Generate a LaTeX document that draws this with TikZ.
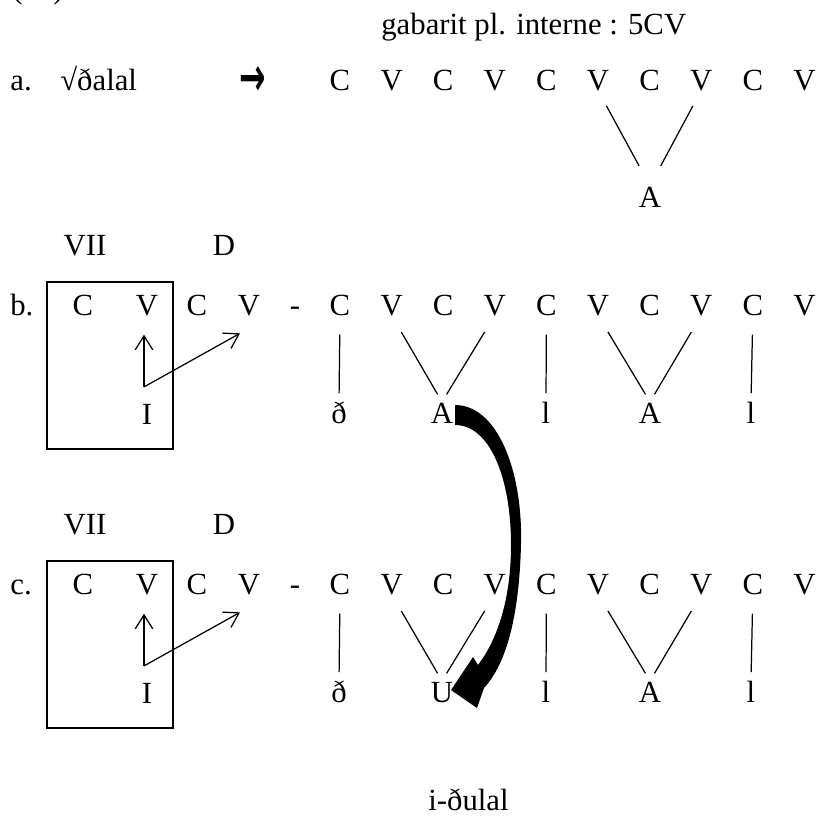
\documentclass[tikz,border=0pt]{standalone}
\usepackage{fontspec}
\setmainfont{Liberation Serif}
\newfontfamily\arrowfont{DejaVu Sans}
\usetikzlibrary{arrows.meta, calc}

\begin{document}
\begin{tikzpicture}[
    x=0.02cm, y=-0.02cm,
    font=\fontsize{17.5}{20}\selectfont,
    seg/.style={inner sep=0pt, text height=11.8pt, text depth=0pt, anchor=base},
    lbl/.style={inner sep=0pt, anchor=base west},
    tie/.style={line width=0.7pt, shorten <=11pt, shorten >=5pt},
    arr/.style={line width=0.7pt, -{Straight Barb[length=8pt, width=10pt]}},
    frame/.style={line width=0.7pt},
]
\useasboundingbox (0,0) rectangle (819,816);

%% example number (cut off at the top)
\node[lbl] (num) at (12,-2) {(\hphantom{00})};

%% a. template
\node[lbl] (gab)  at (381,34) {gabarit pl. interne : 5CV};
\node[lbl] (alab) at (10,90)  {a.};
\node[lbl] (root) at (60,90)  {√ðalal};
\node[inner sep=0pt] (to) at (253,81)
    {\scalebox{1}[1.7]{\fontsize{18}{18}\arrowfont\bfseries →}};
\foreach \s [count=\i from 0] in {C,V,C,V,C,V,C,V,C,V}
  \node[seg] (a\i) at (340+51.6*\i,90) {\s};
\node[seg] (aA) at (650,207) {A};
\draw[tie, shorten <=10pt, shorten >=13pt] (a5.south) -- (aA.north);
\draw[tie, shorten <=10pt, shorten >=13pt] (a7.south) -- (aA.north);

%% b. and c. derivations
\foreach \r/\y/\v in {b/315/A, c/594/U} {
  \node[lbl] (\r-lab) at (10,\y) {\r.};
  \node[seg] (\r-VII) at (85,\y-60)  {VII};
  \node[seg] (\r-D)   at (224,\y-60) {D};
  \node[seg] (\r-kC)  at (83,\y)  {C};
  \node[seg] (\r-kV)  at (147,\y) {V};
  \node[seg] (\r-dC)  at (197,\y) {C};
  \node[seg] (\r-dV)  at (249,\y) {V};
  \node[seg] (\r-dash) at (295,\y) {-};
  \foreach \s [count=\i from 0] in {C,V,C,V,C,V,C,V,C,V}
    \node[seg] (\r\i) at (340+51.6*\i,\y) {\s};

  %% melody
  \node[seg] (\r-I)  at (147,\y+109) {I};
  \node[seg] (\r-dh) at (339,\y+108) {ð};
  \node[seg] (\r-v1) at (442,\y+108) {\v};
  \node[seg] (\r-l1) at (546,\y+108) {l};
  \node[seg] (\r-v2) at (650,\y+108) {A};
  \node[seg] (\r-l2) at (751,\y+108) {l};

  %% association lines
  \draw[tie] (\r0.south) -- (\r-dh.north);
  \draw[tie] (\r1.south) -- (\r-v1.north);
  \draw[tie] (\r3.south) -- (\r-v1.north);
  \draw[tie] (\r4.south) -- (\r-l1.north);
  \draw[tie] (\r5.south) -- (\r-v2.north);
  \draw[tie] (\r7.south) -- (\r-v2.north);
  \draw[tie] (\r8.south) -- (\r-l2.north);

  %% initial CV box and spreading of I
  \draw[frame] (47,\y-33) rectangle (173,\y+134);
  \coordinate (\r-fork) at ($(\r-I.north)+(-3,-16)$);
  \draw[arr, shorten >=11pt] (\r-fork) -- (\r-fork |- \r-kV.south);
  \draw[arr] (\r-fork) -- ($(\r-dV.south)+(-9,18)$);
}

%% A -> U
\fill (455,405) .. controls (497,405) and (523,470) .. (521,545)
  .. controls (519,618) and (506,664) .. (484,688)
  -- (477,708) -- (451,690) -- (473,657) -- (478,665)
  .. controls (497,640) and (511,600) .. (511,545)
  .. controls (511,478) and (490,425) .. (455,425) -- cycle;

%% result
\node[lbl] (res) at (428,810) {i-ðulal};

\end{tikzpicture}
\end{document}
